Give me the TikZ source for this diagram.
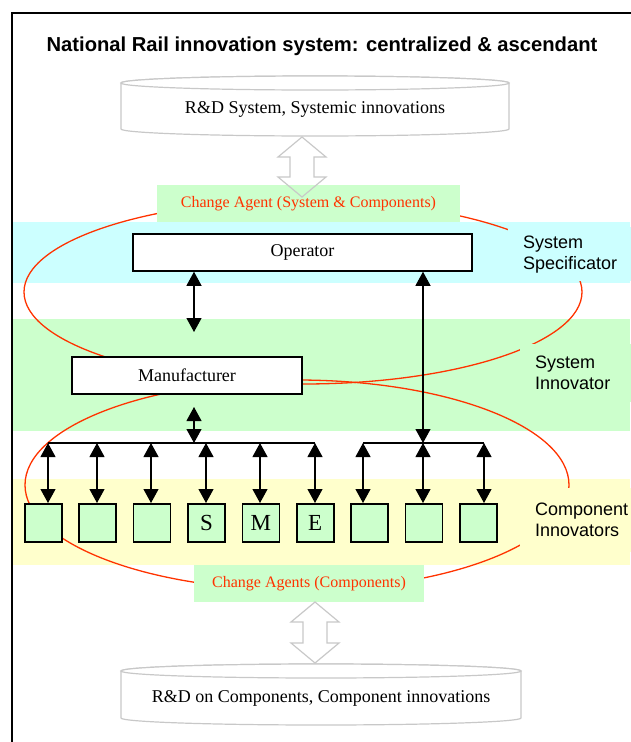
\documentclass[tikz,border=0pt]{standalone}
\usepackage{fontspec}
\setmainfont{Liberation Serif}
\setsansfont{Liberation Sans}
\usetikzlibrary{arrows.meta,calc}
\definecolor{bandcyan}{HTML}{CCFFFF}
\definecolor{bandgreen}{HTML}{CCFFCC}
\definecolor{bandyellow}{HTML}{FFFFCC}
\definecolor{agentred}{HTML}{FF3300}
\definecolor{rdgray}{HTML}{C8C8C8}
\begin{document}
\begin{tikzpicture}[x=1pt,y=-1pt,
  box/.style={draw=black, line width=1.5pt, fill=white, inner sep=0pt,
    font=\fontsize{18}{21}\selectfont},
  agent/.style={fill=bandgreen, text=agentred, inner sep=0pt,
    font=\fontsize{16}{19}\selectfont},
  comp/.style={draw=black, line width=1.5pt, fill=bandgreen, minimum width=37pt,
    minimum height=38pt, inner sep=0pt, anchor=north west,
    font=\fontsize{23}{23}\selectfont},
  tier/.style={anchor=north west, inner xsep=15pt, inner ysep=0pt, align=left,
    text width=110pt, font=\sffamily\fontsize{18}{21}\selectfont},
  link/.style={line width=1.1pt,
    {Triangle[length=14pt,width=15pt]}-{Triangle[length=14pt,width=15pt]}},
  ring/.style={draw=agentred, line width=1.3pt},
  store/.style={draw=rdgray, line width=1.2pt, fill=white},
  flow/.style={draw=rdgray, line width=1.2pt, line join=miter}
]
\useasboundingbox (0,0) rectangle (630,742);

% horizontal bands of the three levels
\fill[bandcyan]   (13,222) rectangle (630,283);
\fill[bandgreen]  (13,319) rectangle (630,431);
\fill[bandyellow] (13,479) rectangle (630,565);

% change-agent loops
\draw[ring] (303,292) ellipse [x radius=279pt, y radius=92pt];
\draw[ring] (297,485) ellipse [x radius=272pt, y radius=105pt];

% title
\node[font=\sffamily\bfseries\fontsize{20.2}{24}\selectfont] (title) at (322,46)
  {National Rail innovation system: centralized \& ascendant};

% R&D stores
\path[store] (121,83) -- (121,129)
  arc[start angle=180, end angle=360, x radius=194pt, y radius=7pt]
  -- (509,83) arc[start angle=0, end angle=180, x radius=194pt, y radius=7pt] -- cycle;
\draw[store] (315,83) ellipse [x radius=194pt, y radius=7pt];
\node[inner sep=0pt, font=\fontsize{18}{21}\selectfont] (rdSys) at (315,109)
  {R\&D System, Systemic innovations};

\path[store] (121,671) -- (121,718)
  arc[start angle=180, end angle=360, x radius=200pt, y radius=7pt]
  -- (521,671) arc[start angle=0, end angle=180, x radius=200pt, y radius=7pt] -- cycle;
\draw[store] (321,671) ellipse [x radius=200pt, y radius=7pt];
\node[inner sep=0pt, font=\fontsize{18}{21}\selectfont] (rdComp) at (321,698)
  {R\&D on Components, Component innovations};

% actors
\node[agent, minimum width=303pt, minimum height=37pt] (caSys) at (308.5,203.5)
  {Change Agent (System \& Components)};
\node[box, minimum width=339pt, minimum height=37pt] (op) at (302.5,252.5) {Operator};
\node[box, minimum width=230pt, minimum height=37pt] (mf) at (187,375.5) {Manufacturer};
\node[agent, minimum width=230pt, minimum height=37pt] (caComp) at (309,583.5)
  {Change Agents (Components)};

% component suppliers
\foreach \i/\t in {1/,2/,3/,4/S,5/M,6/E,7/,8/,9/}
  \node[comp] (c\i) at ({24+54.4*(\i-1)},503) {\t};

% level labels
\node[tier, fill=bandcyan, minimum height=54pt] (lvlSpec) at (508,227) {System\\Specificator};
\node[tier, fill=bandgreen, minimum height=58pt] (lvlSys) at (520,344) {System\\Innovator};
\node[tier, fill=bandyellow, minimum height=64pt] (lvlComp) at (520,488) {Component\\Innovators};

% exchanges with the R&D stores
\coordinate (gaTop) at (302,137);
\draw[flow] (gaTop) -- ++(24,20) -- ++(-12,0) -- ++(0,20) -- ++(12,0) -- ++(-24,20)
  -- ++(-24,-20) -- ++(12,0) -- ++(0,-20) -- ++(-12,0) -- cycle;
\coordinate (gaBot) at (315,602);
\draw[flow] (gaBot) -- ++(24,20) -- ++(-12,0) -- ++(0,21) -- ++(12,0) -- ++(-24,20)
  -- ++(-24,-20) -- ++(12,0) -- ++(0,-21) -- ++(-12,0) -- cycle;

% buses to the component suppliers
\coordinate (busL) at (48,443);
\coordinate (busLR) at (315,443);
\coordinate (busR) at (363,443);
\coordinate (busRR) at (484,443);
\draw[line width=1.1pt] (busL) -- (busLR);
\draw[line width=1.1pt] (busR) -- (busRR);
\foreach \x/\c in {48/c1,97/c2,151/c3,206/c4,260/c5,315/c6,363/c7,423/c8,484/c9}{
  \coordinate (t\c) at (\x,443);
  \draw[link] (t\c) -- (t\c |- \c.north);
}

% operator and manufacturer links
\coordinate (omEnd) at (194,332);
\draw[link] (omEnd |- op.south) -- (omEnd);
\coordinate (opBus) at (423,443);
\draw[link] (opBus |- op.south) -- (opBus);
\coordinate (mfLink) at (194,407);
\coordinate (mfBus) at (194,443);
\draw[link] (mfLink) -- (mfBus);

% frame
\draw[line width=1.6pt] (12,760) -- (12,13) -- (650,13);
\end{tikzpicture}
\end{document}
